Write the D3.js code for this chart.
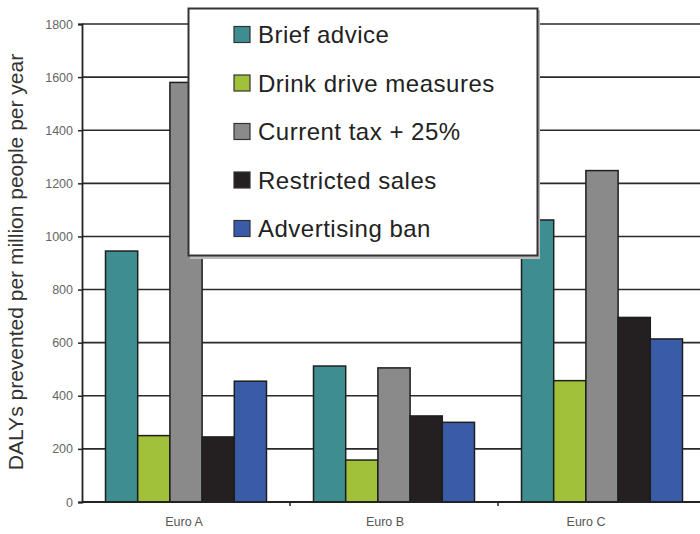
<!DOCTYPE html>
<html>
<head>
<meta charset="utf-8">
<script src="https://cdn.jsdelivr.net/npm/d3@7"></script>
<style>
  html, body { margin: 0; padding: 0; background: #fff; }
  svg { display: block; }
</style>
</head>
<body>
<svg id="chart" width="700" height="534"></svg>
<script>
// ---- data ----
const categories = ["Euro A", "Euro B", "Euro C"];
const seriesNames = ["Brief advice", "Drink drive measures", "Current tax + 25%", "Restricted sales", "Advertising ban"];
const briefAdvice      = [945, 512, 1062];
const drinkDrive       = [250, 158, 457];
const currentTax       = [1580, 505, 1248];
const restrictedSales  = [245, 324, 695];
const advertisingBan   = [455, 300, 614];
const seriesColors = ["#3e8e91", "#a2c13a", "#8a8a8a", "#242021", "#3a5ca8"];
const yTicks = [0, 200, 400, 600, 800, 1000, 1200, 1400, 1600, 1800];
const yTitle = "DALYs prevented per million people per year";

const seriesValues = [briefAdvice, drinkDrive, currentTax, restrictedSales, advertisingBan];

const svg = d3.select("#chart");
const plotLeft = 82, plotRight = 706, plotTop = 24, plotBottom = 502;

const x0 = d3.scaleBand().domain(categories).range([plotLeft, plotRight])
  .paddingInner(0.226).paddingOuter(0.113);
const x1 = d3.scaleBand().domain(seriesNames).range([0, x0.bandwidth()]).padding(0);
const y = d3.scaleLinear().domain([0, 1800]).range([plotBottom, plotTop]);
// label positions (labels in the reference sit slightly left of group centres)
const xLabel = d3.scaleBand().domain(categories).range([83.5, 686.5]);

// gridlines
svg.append("g").selectAll("line").data(yTicks.filter(d => d > 0)).join("line")
  .attr("x1", plotLeft).attr("x2", 700)
  .attr("y1", d => y(d)).attr("y2", d => y(d))
  .attr("stroke", "#2a2a2a").attr("stroke-width", 1.6);

// bars
const groups = svg.append("g").selectAll("g").data(categories).join("g")
  .attr("transform", d => `translate(${x0(d)},0)`);
groups.selectAll("rect")
  .data((c, ci) => seriesNames.map((s, si) => ({ s, si, v: seriesValues[si][ci] })))
  .join("rect")
  .attr("x", d => x1(d.s))
  .attr("y", d => y(d.v))
  .attr("width", x1.bandwidth())
  .attr("height", d => y(0) - y(d.v))
  .attr("fill", d => seriesColors[d.si])
  .attr("stroke", "#1e1e1e").attr("stroke-width", 1.5);

// y axis
const yAxis = svg.append("g").attr("transform", `translate(${plotLeft},0)`)
  .call(d3.axisLeft(y).tickValues(yTicks).tickSize(4).tickPadding(5).tickFormat(d3.format("d")));
yAxis.select(".domain").attr("stroke", "#222").attr("stroke-width", 1.8);
yAxis.selectAll(".tick line").attr("stroke", "#222").attr("stroke-width", 1.5);
yAxis.selectAll(".tick text").attr("font-family", "Liberation Sans, Arial, sans-serif")
  .attr("font-size", 12.5).attr("fill", "#666");

// x axis line + separator ticks
const xAxis = svg.append("g").attr("transform", `translate(0,${plotBottom})`);
xAxis.append("line").attr("x1", plotLeft).attr("x2", 700).attr("y1", 0).attr("y2", 0)
  .attr("stroke", "#222").attr("stroke-width", 1.8);
xAxis.selectAll("line.sep").data(categories.slice(1)).join("line").attr("class", "sep")
  .attr("x1", d => x0(d) - x0.step() * x0.paddingInner() / 2)
  .attr("x2", d => x0(d) - x0.step() * x0.paddingInner() / 2)
  .attr("y1", 0).attr("y2", 4).attr("stroke", "#222").attr("stroke-width", 1.5);
xAxis.selectAll("text").data(categories).join("text")
  .attr("x", d => xLabel(d) + xLabel.bandwidth() / 2)
  .attr("y", 24)
  .attr("text-anchor", "middle")
  .attr("font-family", "Liberation Sans, Arial, sans-serif")
  .attr("font-size", 12.5).attr("fill", "#555")
  .text(d => d);

// y title
svg.append("text")
  .attr("transform", "translate(23,262) rotate(-90)")
  .attr("text-anchor", "middle")
  .attr("font-family", "Liberation Sans, Arial, sans-serif")
  .attr("font-size", 21).attr("fill", "#333")
  .text(yTitle);

// legend
const lg = svg.append("g");
lg.append("rect").attr("x", 190).attr("y", 10).attr("width", 350).attr("height", 249)
  .attr("fill", "#bbb");
lg.append("rect").attr("x", 188.5).attr("y", 8.5).attr("width", 349).attr("height", 247)
  .attr("fill", "#fff").attr("stroke", "#333").attr("stroke-width", 2);
const ly = d3.scalePoint().domain(seriesNames).range([34.5, 228.5]);
const items = lg.selectAll("g.item").data(seriesNames).join("g").attr("class", "item")
  .attr("transform", d => `translate(234,${ly(d)})`);
items.append("rect").attr("x", 0).attr("y", -8).attr("width", 16).attr("height", 16)
  .attr("fill", (d, i) => seriesColors[i]).attr("stroke", "#333").attr("stroke-width", 1.2);
items.append("text").attr("x", 24).attr("y", 8.5)
  .attr("font-family", "Liberation Sans, Arial, sans-serif")
  .attr("font-size", 24).attr("letter-spacing", 0.5).attr("fill", "#222")
  .text(d => d);
</script>
</body>
</html>
